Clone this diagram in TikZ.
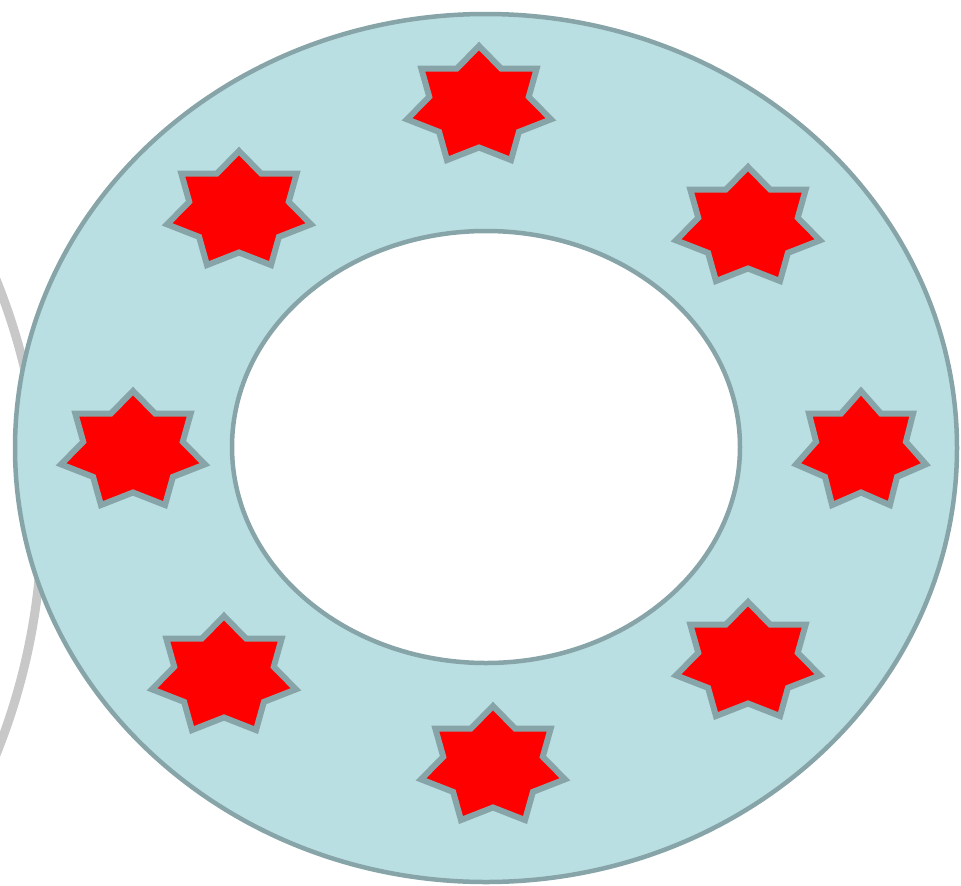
\documentclass[tikz,border=0pt]{standalone}
\usetikzlibrary{calc}
\definecolor{ringfill}{HTML}{B9DFE3}
\definecolor{ringline}{HTML}{87A5A8}
\definecolor{arcgray}{HTML}{C8C8C8}
\tikzset{
  ringstyle/.style={draw=ringline, line width=4.5pt},
  starstyle/.style={draw=ringline, fill=red, line width=6pt, line join=miter},
  arcstyle/.style={draw=arcgray, line width=9pt}
}
\newcommand\sevenstar[3]{%
  \draw[starstyle, shift={(#1,#2)}, xscale=#3] (90:60pt)
    \foreach \i in {1,...,6} { -- ({90+(\i-0.5)*360/7}:41.5pt) -- ({90+\i*360/7}:60pt) }
    -- ({90+6.5*360/7}:41.5pt) -- cycle;}
\begin{document}
\begin{tikzpicture}[x=1pt,y=-1pt]
\useasboundingbox (0,0) rectangle (961,886);
\fill[white] (0,0) rectangle (961,886);
% faint arc behind the ring
\coordinate (arcc) at (-592,517);
\draw[arcstyle] (arcc) circle[radius=634];
% ring
\coordinate (c) at (486,448);
\path[ringstyle, fill=ringfill] (c) ellipse[x radius=471, y radius=434];
\path[ringstyle, fill=white] (486,447) ellipse[x radius=254, y radius=216];
% stars
\sevenstar{479}{106}{1.23}
\sevenstar{239}{211}{1.23}
\sevenstar{748}{227}{1.23}
\sevenstar{133}{451}{1.23}
\sevenstar{861}{451}{1.11}
\sevenstar{224}{676}{1.23}
\sevenstar{748}{662}{1.23}
\sevenstar{493}{766}{1.23}
\end{tikzpicture}
\end{document}
